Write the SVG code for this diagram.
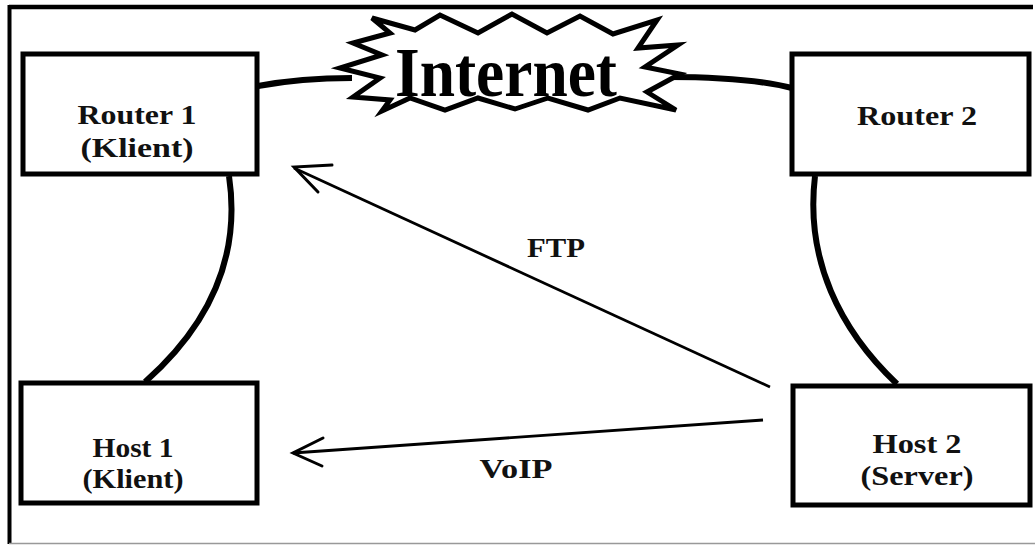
<svg xmlns="http://www.w3.org/2000/svg" width="1035" height="546" viewBox="0 0 1035 546">
<style>
.box{fill:#fff;stroke:#000;stroke-width:5}
.lbl{font-family:"Liberation Serif","Times New Roman",serif;font-weight:bold;font-size:28px;fill:#111;text-anchor:middle}
.edge{fill:none;stroke:#000;stroke-width:2.8}
.link{fill:none;stroke:#000;stroke-width:6}
.head{fill:none;stroke:#000;stroke-width:3;stroke-linecap:round}
</style>
<rect width="1035" height="546" fill="#fff"/>
<g id="frame">
<line x1="9" y1="7" x2="1033" y2="7" stroke="#000" stroke-width="4.5"/>
<line x1="9.5" y1="5" x2="9.5" y2="544" stroke="#000" stroke-width="4"/>
<line x1="9" y1="543.5" x2="1035" y2="543.5" stroke="#999" stroke-width="1.5"/>
</g>
<g id="connectors">
<path class="link" d="M258,86 C290,80 320,78 352,78"/>
<path class="link" d="M668,77 C720,77 760,80 792,88"/>
<path class="link" d="M229,176 C240,250 215,320 145,382"/>
<path class="link" d="M815,176 C805,260 840,330 897,384"/>
<line class="edge" x1="770" y1="387" x2="294" y2="168"/>
<polyline class="head" points="332,165 294,167 318,192"/>
<line class="edge" x1="763" y1="420" x2="293" y2="453"/>
<polyline class="head" points="323,438 293,453 322,466"/>
<text class="lbl" x="556" y="257" textLength="58" lengthAdjust="spacingAndGlyphs">FTP</text>
<text class="lbl" x="516" y="478" textLength="73" lengthAdjust="spacingAndGlyphs">VoIP</text>
</g>
<g id="internet">
<polygon fill="#fff" stroke="#000" stroke-width="5" stroke-linejoin="miter" points="372,18 415,30 440,15 478,33 512,14 547,33 580,16 613,34 657,20 638,48 678,45 645,67 680,74 647,92 676,110 620,98 588,110 548,98 515,109 478,98 445,110 410,98 382,111 390,100 353,97 380,78 340,68 382,55 353,43 390,33"/>
<text x="506" y="96" font-family="Liberation Serif,'Times New Roman',serif" font-weight="bold" font-size="70" text-anchor="middle" textLength="222" lengthAdjust="spacingAndGlyphs" fill="#000">Internet</text>
</g>
<g id="router1">
<rect class="box" x="23" y="54" width="234" height="120"/>
<text class="lbl" x="137" y="124" textLength="119" lengthAdjust="spacingAndGlyphs">Router 1</text>
<text class="lbl" x="137" y="157" textLength="113" lengthAdjust="spacingAndGlyphs">(Klient)</text>
</g>
<g id="router2">
<rect class="box" x="792" y="54" width="237" height="120"/>
<text class="lbl" x="917" y="125" textLength="120" lengthAdjust="spacingAndGlyphs">Router 2</text>
</g>
<g id="host1">
<rect class="box" x="21" y="383" width="236" height="120"/>
<text class="lbl" x="133" y="457" textLength="81" lengthAdjust="spacingAndGlyphs">Host 1</text>
<text class="lbl" x="133" y="488" textLength="101" lengthAdjust="spacingAndGlyphs">(Klient)</text>
</g>
<g id="host2">
<rect class="box" x="793" y="386" width="237" height="119"/>
<text class="lbl" x="917" y="453" textLength="89" lengthAdjust="spacingAndGlyphs">Host 2</text>
<text class="lbl" x="917" y="485" textLength="113" lengthAdjust="spacingAndGlyphs">(Server)</text>
</g>
</svg>
